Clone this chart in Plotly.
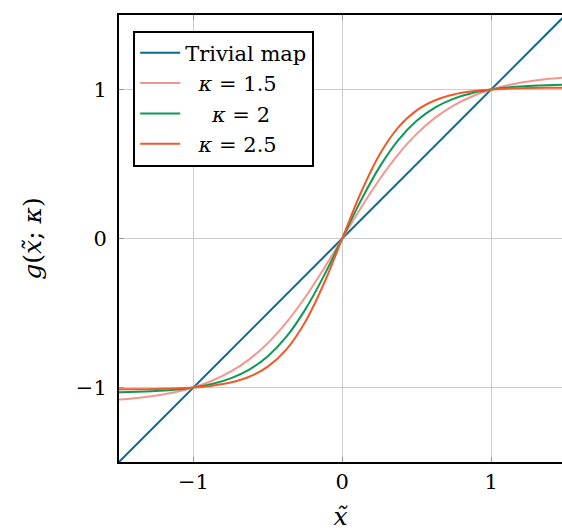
import plotly.graph_objects as go

# x positions (sampled)
x_vals = [-1.5, -1.375, -1.25, -1.125, -1.0, -0.875, -0.75, -0.625, -0.5, -0.375, -0.25, -0.125,
          0.0, 0.125, 0.25, 0.375, 0.5, 0.625, 0.75, 0.875, 1.0, 1.125, 1.25, 1.375, 1.5]

trivial_x = [-1.5, 1.5]
trivial_y = [-1.5, 1.5]

pos_k15 = [0.0, 0.205, 0.396, 0.563, 0.702, 0.811, 0.894, 0.955, 1.0, 1.032, 1.054, 1.070, 1.081]
pos_k2 = [0.0, 0.254, 0.479, 0.659, 0.790, 0.880, 0.939, 0.977, 1.0, 1.015, 1.023, 1.029, 1.032]
pos_k25 = [0.0, 0.307, 0.562, 0.744, 0.860, 0.928, 0.967, 0.988, 1.0, 1.006, 1.010, 1.012, 1.012]

y_k15 = [-v for v in pos_k15[:0:-1]] + pos_k15
y_k2 = [-v for v in pos_k2[:0:-1]] + pos_k2
y_k25 = [-v for v in pos_k25[:0:-1]] + pos_k25

names = ["Trivial map", "\u2007<i>κ</i> = 1.5", "\u2007\u2007<i>κ</i> = 2", "\u2007<i>κ</i> = 2.5"]
colors = ["#0a6a92", "#f4968e", "#0f9955", "#f05a2a"]

tick_vals = [-1, 0, 1]
tick_text = ["−1", "0", "1"]

FONT = "DejaVu Serif"

fig = go.Figure()
fig.add_trace(go.Scatter(x=trivial_x, y=trivial_y, mode="lines", name=names[0],
                         line=dict(color=colors[0], width=2)))
for yv, nm, c in zip([y_k15, y_k2, y_k25], names[1:], colors[1:]):
    fig.add_trace(go.Scatter(x=x_vals, y=yv, mode="lines", name=nm,
                             line=dict(color=c, width=2, shape="spline")))

fig.update_layout(
    width=562, height=531,
    margin=dict(l=119, r=0, t=15, b=69),
    plot_bgcolor="white", paper_bgcolor="white",
    font=dict(family=FONT, size=21, color="black"),
    showlegend=True,
    legend=dict(x=0.032, y=0.965, xanchor="left", yanchor="top",
                bgcolor="white", bordercolor="black", borderwidth=2,
                font=dict(family=FONT, size=21), tracegroupgap=0,
                itemwidth=40),
    xaxis=dict(range=[-1.5, 1.4765], tickvals=tick_vals, ticktext=tick_text,
               showgrid=True, gridcolor="#cccccc", gridwidth=1,
               showline=True, linecolor="black", linewidth=2, mirror="ticks",
               ticks="inside", ticklen=5, tickcolor="#999999", tickwidth=1,
               zeroline=False,
               title=dict(text="<i>x̃</i>", standoff=14)),
    yaxis=dict(range=[-1.5, 1.5], tickvals=tick_vals, ticktext=tick_text,
               showgrid=True, gridcolor="#cccccc", gridwidth=1,
               showline=True, linecolor="black", linewidth=2, mirror=False,
               ticks="inside", ticklen=5, tickcolor="#999999", tickwidth=1,
               zeroline=False, ticklabelstandoff=6,
               title=dict(text="<i>g</i>(<i>x̃</i>; <i>κ</i>)", standoff=27)),
)

fig.write_html("out.html")
